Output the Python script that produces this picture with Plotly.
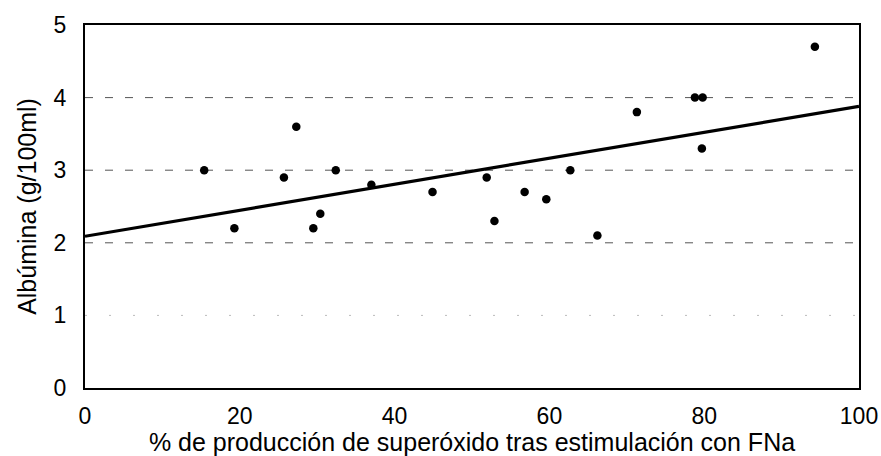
import plotly.graph_objects as go

# Data
superoxido = [15.4, 19.3, 25.7, 27.3, 29.5, 30.4, 32.4, 37.0, 44.9, 51.9,
              52.9, 56.8, 59.6, 62.7, 66.2, 71.3, 78.8, 79.8, 79.7, 94.3]
albumina = [3.0, 2.2, 2.9, 3.6, 2.2, 2.4, 3.0, 2.8, 2.7, 2.9,
            2.3, 2.7, 2.6, 3.0, 2.1, 3.8, 4.0, 4.0, 3.3, 4.7]
trend_x = [0, 100]
trend_y = [2.09, 3.88]
x_ticks = [0, 20, 40, 60, 80, 100]
y_ticks = [0, 1, 2, 3, 4, 5]
dashed_grid = [2, 3, 4]
faint_grid = [1]

FONT = "Liberation Sans, Arial, Helvetica, sans-serif"

fig = go.Figure()
fig.add_trace(go.Scatter(x=trend_x, y=trend_y, mode="lines",
                         line=dict(color="black", width=3.2), showlegend=False,
                         hoverinfo="skip"))
fig.add_trace(go.Scatter(x=superoxido, y=albumina, mode="markers",
                         marker=dict(color="black", size=8.5), showlegend=False))

shapes = []
for g in dashed_grid:
    shapes.append(dict(type="line", xref="x", yref="y", x0=0, x1=100, y0=g, y1=g,
                       line=dict(color="#555555", width=1, dash="8px,12px"),
                       layer="below"))
for g in faint_grid:
    shapes.append(dict(type="line", xref="x", yref="y", x0=0, x1=100, y0=g, y1=g,
                       line=dict(color="#bbbbbb", width=1, dash="2px,22px"),
                       layer="below"))

fig.update_layout(
    width=881, height=456,
    margin=dict(l=85, r=22, t=25, b=68),
    paper_bgcolor="white", plot_bgcolor="white",
    font=dict(family=FONT, color="black", size=23),
    shapes=shapes,
    showlegend=False,
)
fig.update_xaxes(range=[0, 100], tickvals=x_ticks, showgrid=False, zeroline=False,
                 showline=True, linecolor="black", linewidth=2, mirror=True,
                 ticks="", ticklabelstandoff=6, automargin=False,
                 tickfont=dict(size=23, family=FONT),
                 title=dict(text="% de producción de superóxido tras estimulación con FNa",
                            font=dict(size=25, family=FONT), standoff=2))
fig.update_yaxes(range=[0, 5], tickvals=y_ticks, showgrid=False, zeroline=False,
                 showline=True, linecolor="black", linewidth=2, mirror=True,
                 ticks="", ticklabelstandoff=12, automargin=False,
                 tickfont=dict(size=23, family=FONT),
                 title=dict(text="Albúmina (g/100ml)",
                            font=dict(size=25, family=FONT), standoff=10))

fig.write_html("out.html", config={"displayModeBar": False},
               post_script="document.body.style.margin='0px';")
